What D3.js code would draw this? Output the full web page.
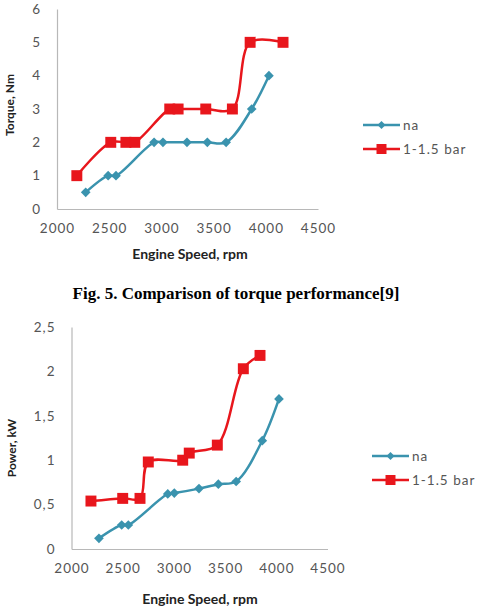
<!DOCTYPE html>
<html>
<head>
<meta charset="utf-8">
<script src="https://cdn.jsdelivr.net/npm/d3@7"></script>
<style>
  html, body { margin: 0; padding: 0; background: #fff; }
  svg { display: block; }
</style>
</head>
<body>
<svg id="chart" width="478" height="614"></svg>
<script>
// data
const seriesNames = ["na", "1-1.5 bar"];
const speedTicks = [2000, 2500, 3000, 3500, 4000, 4500];
const torqueTicks = [0, 1, 2, 3, 4, 5, 6];
const powerTicks = [0, 0.5, 1, 1.5, 2, 2.5];

const torqueNaRpm = [2275, 2490, 2565, 2930, 3015, 3245, 3440, 3620, 3865, 4030];
const torqueNa = [0.5, 1, 1, 2, 2, 2, 2, 2, 3, 4];
const torqueBoostRpm = [2190, 2515, 2660, 2745, 3080, 3160, 3425, 3680, 3850, 4165];
const torqueBoost = [1, 2, 2, 2, 3, 3, 3, 3, 5, 5];

const powerNaRpm = [2268, 2490, 2555, 2940, 3004, 3245, 3434, 3608, 3863, 4026];
const powerNa = [0.12, 0.27, 0.27, 0.62, 0.63, 0.68, 0.73, 0.76, 1.22, 1.69];
const powerBoostRpm = [2190, 2500, 2669, 2750, 3086, 3150, 3424, 3678, 3841];
const powerBoost = [0.54, 0.57, 0.57, 0.98, 1.0, 1.08, 1.17, 2.03, 2.18];

const colors = ["#3a93ae", "#e8161c"];
const tickFont = "Lato, 'Open Sans', sans-serif";

const svg = d3.select("#chart");

function drawChart(opt) {
  const g = svg.append("g");
  const x = d3.scaleLinear().domain([2000, 4500]).range(opt.xRange);
  const y = d3.scaleLinear().domain(opt.yDomain).range(opt.yRange);

  // axis lines (no tick marks, like Excel)
  const xAxis = g.append("g")
    .attr("transform", `translate(0,${opt.yRange[0]})`)
    .call(d3.axisBottom(x).tickValues(speedTicks).tickSize(0).tickPadding(14).tickFormat(d3.format("d")));
  const yAxis = g.append("g")
    .attr("transform", `translate(${opt.xRange[0]},0)`)
    .call(d3.axisLeft(y).tickValues(opt.yTicks).tickSize(0).tickPadding(16).tickFormat(opt.yFormat));
  [xAxis, yAxis].forEach(a => {
    a.select(".domain").attr("stroke", "#b8b8b8").attr("stroke-width", 1.2);
    a.selectAll("text")
      .attr("fill", "#555")
      .style("font-family", tickFont)
      .style("font-size", "13.5px")
      .style("letter-spacing", "1px");
  });

  // axis titles
  g.append("text")
    .attr("x", opt.xTitle[0]).attr("y", opt.xTitle[1])
    .attr("text-anchor", "middle")
    .style("font-family", tickFont).style("font-weight", "bold").style("font-size", "14px")
    .attr("fill", "#222")
    .text("Engine Speed, rpm");
  g.append("text")
    .attr("transform", `translate(${opt.yTitle[0]},${opt.yTitle[1]}) rotate(-90)`)
    .attr("text-anchor", "middle")
    .style("font-family", tickFont).style("font-weight", "bold").style("font-size", "12px")
    .attr("fill", "#222")
    .text(opt.yLabel);

  const line = d3.line()
    .x(d => x(d[0])).y(d => y(d[1]))
    .curve(d3.curveCatmullRom);

  opt.series.forEach((s, i) => {
    const pts = s.rpm.map((r, k) => [r, s.val[k]]);
    g.append("path")
      .attr("d", line(pts))
      .attr("fill", "none")
      .attr("stroke", colors[i])
      .attr("stroke-width", 2.5);
    g.selectAll(null).data(pts).enter().append("path")
      .attr("transform", d => `translate(${x(d[0])},${y(d[1])})`)
      .attr("d", i === 0 ? d3.symbol(d3.symbolDiamond2, 60) : d3.symbol(d3.symbolSquare, 120))
      .attr("fill", colors[i]);
  });

  // legend
  const lg = g.append("g").attr("transform", `translate(${opt.legend[0]},${opt.legend[1]})`);
  seriesNames.forEach((name, i) => {
    const row = lg.append("g").attr("transform", `translate(0,${i * 24})`);
    row.append("line").attr("x1", 0).attr("x2", 37).attr("y1", 0).attr("y2", 0)
      .attr("stroke", colors[i]).attr("stroke-width", 2.5);
    row.append("path").attr("transform", "translate(18.5,0)")
      .attr("d", i === 0 ? d3.symbol(d3.symbolDiamond2, 40) : d3.symbol(d3.symbolSquare, 100))
      .attr("fill", colors[i]);
    row.append("text").attr("x", 40).attr("y", 4.5)
      .style("font-family", tickFont).style("font-size", "13.5px").style("letter-spacing", "1px")
      .attr("fill", "#555")
      .text(name);
  });
}

drawChart({
  xRange: [57, 318], yDomain: [0, 6], yRange: [209, 9],
  yTicks: torqueTicks, yFormat: d3.format("d"),
  yLabel: "Torque, Nm", xTitle: [190, 259], yTitle: [14, 105],
  legend: [363, 125],
  series: [{ rpm: torqueNaRpm, val: torqueNa }, { rpm: torqueBoostRpm, val: torqueBoost }]
});

svg.append("text")
  .attr("x", 236).attr("y", 299)
  .attr("text-anchor", "middle")
  .style("font-family", "'Liberation Serif', 'Times New Roman', serif")
  .style("font-weight", "bold").style("font-size", "17px")
  .text("Fig. 5. Comparison of torque performance[9]");

drawChart({
  xRange: [71.5, 327.5], yDomain: [0, 2.5], yRange: [549, 327],
  yTicks: powerTicks, yFormat: d => String(d).replace(".", ","),
  yLabel: "Power, kW", xTitle: [200, 604], yTitle: [16, 448],
  legend: [372, 456],
  series: [{ rpm: powerNaRpm, val: powerNa }, { rpm: powerBoostRpm, val: powerBoost }]
});
</script>
</body>
</html>
